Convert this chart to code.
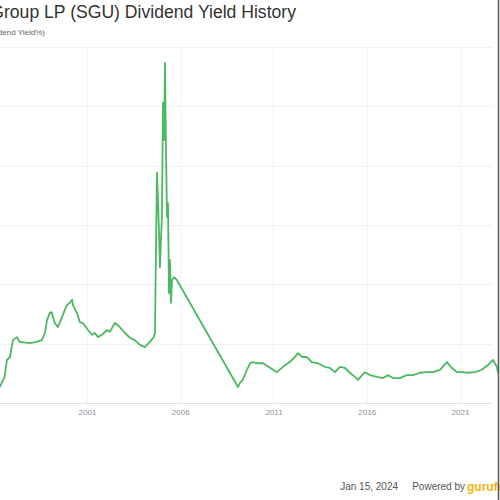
<!DOCTYPE html>
<html>
<head>
<meta charset="utf-8">
<script src="https://cdn.jsdelivr.net/npm/d3@7"></script>
<style>
  body { margin: 0; background: #fff; }
  svg { display: block; font-family: "Liberation Sans", Arial, sans-serif; }
</style>
</head>
<body>
<div id="canvas"></div>
<script>
const dates = [
  "1996-05-01", "1996-08-01", "1996-09-15", "1996-11-15", "1997-01-10", "1997-04-01",
  "1997-05-20", "1997-12-10", "1998-04-20", "1998-08-01", "1998-10-01", "1998-11-10",
  "1999-01-05", "1999-02-10", "1999-03-05", "1999-04-10", "1999-06-10", "1999-07-20",
  "1999-10-25", "1999-12-05", "2000-02-01", "2000-03-15", "2000-04-01", "2000-06-15",
  "2000-08-15", "2000-10-15", "2001-01-20", "2001-04-10", "2001-06-05", "2001-08-05",
  "2001-10-20", "2002-02-01", "2002-03-25", "2002-07-01", "2002-10-05", "2003-01-15",
  "2003-04-20", "2003-07-25", "2003-11-05", "2004-02-10", "2004-05-15", "2004-08-01",
  "2004-08-24", "2004-09-13", "2004-10-02", "2004-10-22", "2004-11-10", "2004-11-30",
  "2004-12-19", "2005-01-08", "2005-01-28", "2005-02-17", "2005-03-08", "2005-03-28",
  "2005-04-17", "2005-05-06", "2005-05-26", "2005-06-14", "2005-07-04", "2005-07-24",
  "2005-09-01", "2005-10-29", "2009-02-05", "2009-03-15", "2009-05-10", "2009-07-30",
  "2009-10-01", "2009-11-10", "2010-02-15", "2010-06-10", "2010-11-01", "2011-03-10",
  "2011-07-05", "2011-11-15", "2012-02-25", "2012-04-25", "2012-07-15", "2012-10-20",
  "2013-01-20", "2013-05-20", "2013-10-05", "2014-01-10", "2014-04-20", "2014-07-25",
  "2014-11-01", "2015-02-05", "2015-05-15", "2015-07-15", "2015-10-01", "2015-11-30",
  "2016-03-01", "2016-07-20", "2016-11-15", "2017-02-20", "2017-05-30", "2017-10-10",
  "2018-02-25", "2018-06-25", "2018-11-10", "2019-03-25", "2019-07-20", "2019-12-05",
  "2020-04-20", "2020-07-25", "2020-11-01", "2021-03-01", "2021-06-05", "2021-10-20",
  "2022-03-05", "2022-07-01", "2022-10-10", "2022-12-25", "2023-01-15"
];

const yields = [
  2.7, 4.4, 7.25, 7.75, 10.6, 11.1,
  10.3, 10.1, 10.3, 10.6, 11.8, 14.0,
  15.2, 15.3, 14.5, 13.5, 12.8, 13.6,
  15.7, 16.5, 16.9, 17.4, 16.5, 15.2,
  13.6, 13.5, 12.3, 11.5, 11.8, 11.1,
  11.5, 12.3, 12.0, 13.5, 12.8, 11.8,
  11.0, 10.6, 9.8, 9.4, 10.3, 11.1,
  11.8, 25.8, 38.8, 34.2, 29.2, 22.9,
  27.5, 31.3, 50.6, 44.3, 57.3, 42.6,
  31.3, 33.7, 18.5, 24.1, 16.9, 20.7,
  21.2, 20.7, 2.7, 3.4, 3.9, 5.6,
  6.7, 6.9, 6.7, 6.7, 5.9, 5.2,
  6.1, 6.9, 7.75, 8.4, 7.75, 7.75,
  6.9, 6.7, 6.1, 5.9, 5.2, 6.1,
  5.9, 5.1, 4.4, 3.9, 4.7, 5.2,
  4.7, 4.4, 4.2, 4.7, 4.2, 4.2,
  4.7, 4.7, 5.1, 5.2, 5.2, 5.6,
  6.9, 5.9, 5.2, 5.2, 5.1, 5.2,
  5.6, 6.4, 7.25, 6.1, 5.1
];

const tickYears = [2001, 2006, 2011, 2016, 2021];
const tickLabels = ["2001", "2006", "2011", "2016", "2021"];
const yTicks = [0, 10, 20, 30, 40, 50, 60];

const titleText = "Star Group LP (SGU) Dividend Yield History";
const subtitleText = "(Dividend Yield%)";
const dateText = "Jan 15, 2024";
const poweredText = "Powered by";
const logoText = "gurufocus";

const width = 500, height = 500;
const plot = { left: 0, right: 493, top: 47, bottom: 403 };

const svg = d3
  .select("#canvas")
  .append("svg")
  .attr("width", width)
  .attr("height", height);

const parse = d3.timeParse("%Y-%m-%d");
const data = dates.map((d, i) => ({ date: parse(d), value: yields[i] }));

// time scale pinned so the 2001 / 2021 ticks land where the picture has them
const x = d3
  .scaleTime()
  .domain([new Date(2001, 0, 1), new Date(2021, 0, 1)])
  .range([87, 460]);

const y = d3
  .scaleLinear()
  .domain([0, 60])
  .range([plot.bottom, plot.top]);

// grid
svg
  .append("g")
  .selectAll("line")
  .data(yTicks)
  .enter()
  .append("line")
  .attr("x1", plot.left)
  .attr("x2", plot.right)
  .attr("y1", d => Math.round(y(d)) + 0.5)
  .attr("y2", d => Math.round(y(d)) + 0.5)
  .style("stroke", d => (d === 0 ? "#dde0e6" : "#eef0f3"))
  .style("stroke-width", 1);

svg
  .append("g")
  .selectAll("line")
  .data(tickYears)
  .enter()
  .append("line")
  .attr("x1", d => Math.round(x(new Date(d, 0, 1))) + 0.5)
  .attr("x2", d => Math.round(x(new Date(d, 0, 1))) + 0.5)
  .attr("y1", plot.top)
  .attr("y2", plot.bottom)
  .style("stroke", "#f1f2f5")
  .style("stroke-width", 1);

// x axis labels
const xAxis = d3
  .axisBottom(x)
  .tickValues(tickYears.map(d => new Date(d, 0, 1)))
  .tickFormat((d, i) => tickLabels[i])
  .tickSize(0)
  .tickPadding(6);

const axisG = svg
  .append("g")
  .attr("transform", `translate(0, ${plot.bottom})`)
  .call(xAxis);

axisG.select(".domain").remove();
axisG
  .selectAll("text")
  .style("font-size", "8px")
  .style("fill", "#8a8f99");

// the series
const line = d3
  .line()
  .x(d => x(d.date))
  .y(d => y(d.value));

svg
  .append("path")
  .datum(data)
  .attr("d", line)
  .style("fill", "none")
  .style("stroke", "#4cb860")
  .style("stroke-width", 1.8)
  .style("stroke-linejoin", "round");

// title + subtitle, cut at the left edge like the picture
svg
  .append("text")
  .attr("x", 296)
  .attr("y", 18)
  .attr("text-anchor", "end")
  .style("font-size", "17.6px")
  .style("fill", "#333")
  .text(titleText);

svg
  .append("text")
  .attr("x", 45)
  .attr("y", 35)
  .attr("text-anchor", "end")
  .style("font-size", "8px")
  .style("fill", "#666")
  .text(subtitleText);

// footer
svg
  .append("text")
  .attr("x", 398)
  .attr("y", 490)
  .attr("text-anchor", "end")
  .style("font-size", "10px")
  .style("fill", "#555")
  .text(dateText);

svg
  .append("text")
  .attr("x", 465)
  .attr("y", 490)
  .attr("text-anchor", "end")
  .style("font-size", "10px")
  .style("fill", "#555")
  .text(poweredText);

svg
  .append("text")
  .attr("x", 467)
  .attr("y", 491)
  .style("font-size", "12px")
  .style("font-weight", "bold")
  .style("fill", "#f5b20f")
  .text(logoText);

// right frame edge
svg
  .append("line")
  .attr("x1", 498.5)
  .attr("x2", 498.5)
  .attr("y1", 0)
  .attr("y2", height)
  .style("stroke", "#555")
  .style("stroke-width", 1.5);
</script>
</body>
</html>
